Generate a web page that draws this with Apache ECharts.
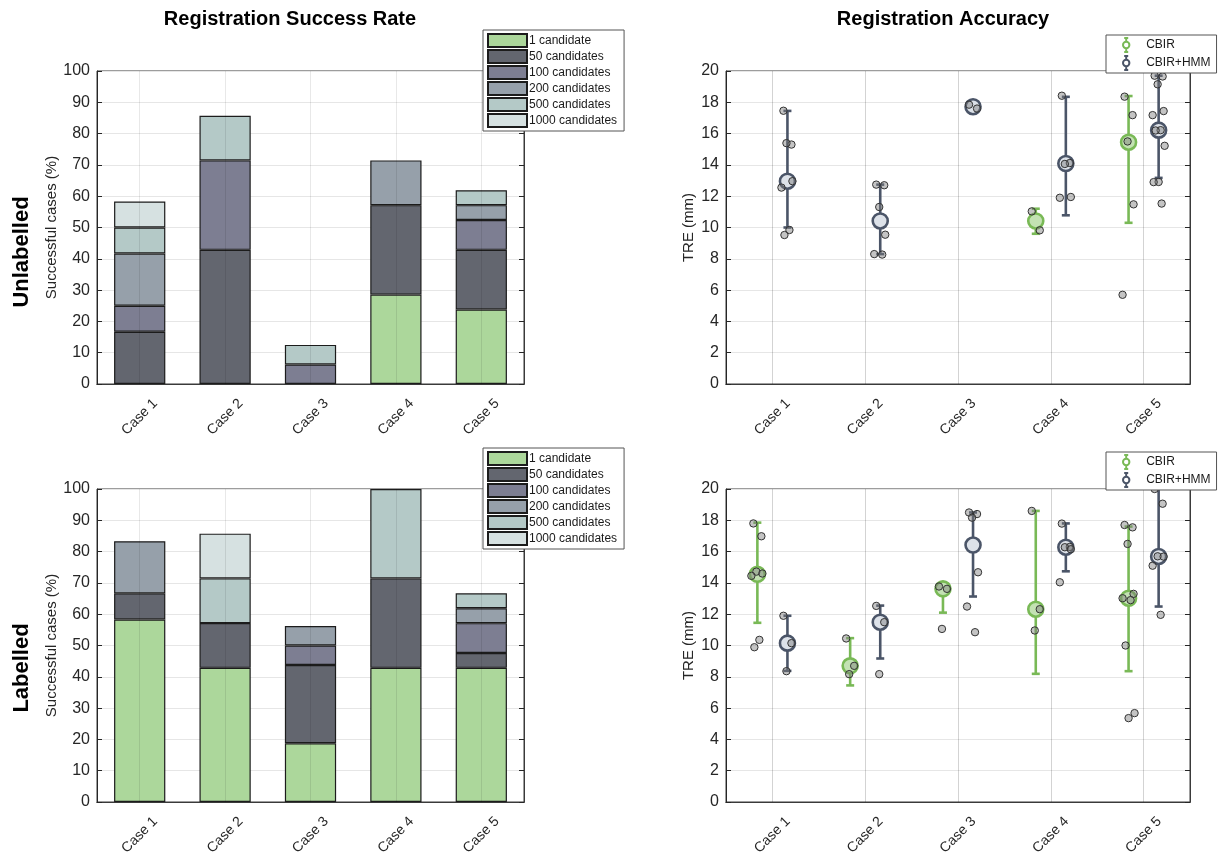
<!DOCTYPE html>
<html>
<head>
<meta charset="utf-8">
<script src="https://cdn.jsdelivr.net/npm/echarts@6/dist/echarts.min.js"></script>
<style>
  html, body { margin: 0; padding: 0; background: #ffffff; }
  #chart { width: 1224px; height: 858px; }
</style>
</head>
<body>
<div id="chart"></div>
<script>
// ---------- data ----------
const CASES = ['Case 1', 'Case 2', 'Case 3', 'Case 4', 'Case 5'];
const CANDIDATE_SETS = ['1 candidate', '50 candidates', '100 candidates', '200 candidates', '500 candidates', '1000 candidates'];

// Success-rate increments (%) gained by each candidate-set size (stacked)
const unlabRate1    = [0, 0, 0, 28.57, 23.81];
const unlabRate50   = [16.67, 42.86, 0, 28.57, 19.05];
const unlabRate100  = [8.33, 28.57, 6.25, 0, 9.52];
const unlabRate200  = [16.67, 0, 0, 14.29, 4.76];
const unlabRate500  = [8.33, 14.29, 6.25, 0, 4.76];
const unlabRate1000 = [8.33, 0, 0, 0, 0];

const labRate1    = [58.33, 42.86, 18.75, 42.86, 42.86];
const labRate50   = [8.33, 14.29, 25, 28.57, 4.76];
const labRate100  = [0, 0, 6.25, 0, 9.52];
const labRate200  = [16.67, 0, 6.25, 0, 4.76];
const labRate500  = [0, 14.29, 0, 28.57, 4.76];
const labRate1000 = [0, 14.29, 0, 0, 0];

// TRE (mm): median, lower / upper whisker, individual registrations
const unlabCbirMid  = [null, null, null, 10.42, 15.45];
const unlabCbirLow  = [null, null, null, 9.6, 10.3];
const unlabCbirHigh = [null, null, null, 11.2, 18.4];
const unlabCbirPts  = [[], [], [], [11.03, 9.82], [18.36, 17.18, 15.5, 11.48, 5.7]];

const unlabHmmMid  = [12.96, 10.42, 17.72, 14.09, 16.22];
const unlabHmmLow  = [10.0, 8.3, 17.6, 10.78, 13.17];
const unlabHmmHigh = [17.45, 12.74, 17.85, 18.35, 19.7];
const unlabHmmPts  = [
  [17.46, 15.3, 15.39, 12.96, 12.55, 9.84, 9.52],
  [12.74, 12.7, 11.31, 9.54, 8.3, 8.27],
  [17.85, 17.6],
  [18.42, 14.12, 14.06, 11.95, 11.9],
  [19.7, 19.65, 19.15, 17.44, 17.18, 16.22, 16.2, 15.22, 12.91, 12.9, 11.53]
];

const labCbirMid  = [14.55, 8.7, 13.62, 12.32, 13.02];
const labCbirLow  = [11.45, 7.45, 12.1, 8.19, 8.36];
const labCbirHigh = [17.85, 10.47, 13.77, 18.6, 17.6];
const labCbirPts  = [
  [17.8, 16.98, 14.72, 14.6, 14.45, 10.36, 9.89],
  [10.45, 8.7, 8.17],
  [13.77, 13.62, 11.06],
  [18.6, 12.32, 10.96],
  [17.7, 17.55, 16.49, 13.3, 13.02, 12.9, 10.0, 5.68, 5.36]
];

const labHmmMid  = [10.15, 11.49, 16.42, 16.28, 15.69];
const labHmmLow  = [8.38, 9.17, 13.13, 14.74, 12.49];
const labHmmHigh = [11.9, 12.55, 18.5, 17.8, 21.0];
const labHmmPts  = [
  [11.9, 10.15, 8.36],
  [12.53, 11.49, 8.17],
  [18.5, 18.4, 18.17, 14.68, 12.49, 10.85],
  [17.79, 16.3, 16.28, 16.15, 14.04],
  [20.0, 19.06, 15.7, 15.68, 15.1, 11.96]
];

// ---------- styling ----------
const FONT = 'Liberation Sans, Arial, Helvetica, sans-serif';
const TEXT = '#262626';
const BAR_COLORS = ['#acd79b', '#63666f', '#7d7e92', '#96a0aa', '#b4c9c7', '#d6e1e1'];
const CBIR_COLOR = '#79b956';
const HMM_COLOR = '#4b5568';
const CBIR_FILL = '#c3e2b3';
const HMM_FILL = '#dde2e9';
const JITTER = [-4, 4, -1, 5, -6, 2, -3, 6, 0, -5, 3, 1, -2];

const grids = [
  { left: 97,  top: 71,  width: 427, height: 313 },
  { left: 97,  top: 489, width: 427, height: 313 },
  { left: 726, top: 71,  width: 464, height: 313 },
  { left: 726, top: 489, width: 464, height: 313 }
].map(g => Object.assign(g, { show: true, borderColor: '#3a3a3a', borderWidth: 1, backgroundColor: 'transparent' }));

const xAxes = [];
const yAxes = [];
grids.forEach((g, gi) => {
  xAxes.push({
    type: 'category', gridIndex: gi, data: CASES, position: 'bottom',
    axisLine: { lineStyle: { color: TEXT, width: 1 } },
    axisTick: { inside: true, alignWithLabel: true, length: 5, lineStyle: { color: TEXT } },
    axisLabel: { rotate: 45, align: 'center', verticalAlign: 'middle', margin: 33,
                 fontSize: 14, color: TEXT, fontFamily: FONT },
    splitLine: { show: false }
  });
  xAxes.push({
    type: 'category', gridIndex: gi, data: CASES, position: 'top',
    axisLine: { lineStyle: { color: '#3a3a3a', width: 1 } },
    axisTick: { inside: true, alignWithLabel: true, length: 5, lineStyle: { color: TEXT } },
    axisLabel: { show: false }, splitLine: { show: false }
  });
  const isRate = gi < 2;
  const scale = isRate ? { min: 0, max: 100, interval: 10 } : { min: 0, max: 20, interval: 2 };
  yAxes.push(Object.assign({
    type: 'value', gridIndex: gi, position: 'left',
    name: isRate ? 'Successful cases (%)' : 'TRE (mm)',
    nameLocation: 'middle', nameGap: 30,
    nameTextStyle: { fontSize: 15, color: TEXT, fontFamily: FONT },
    axisLine: { show: true, lineStyle: { color: TEXT, width: 1 } },
    axisTick: { show: true, inside: true, length: 5, lineStyle: { color: TEXT } },
    axisLabel: { fontSize: 16, color: TEXT, fontFamily: FONT, margin: 7 },
    splitLine: { show: true, lineStyle: { color: '#e6e6e6', width: 1 } }
  }, scale));
  yAxes.push(Object.assign({
    type: 'value', gridIndex: gi, position: 'right',
    axisLine: { show: true, lineStyle: { color: '#3a3a3a', width: 1 } },
    axisTick: { show: true, inside: true, length: 5, lineStyle: { color: TEXT } },
    axisLabel: { show: false }, splitLine: { show: false }
  }, scale));
});

// vertical grid lines through each case, drawn with the category scale
const caseGridLines = {
  silent: true, symbol: ['none', 'none'], label: { show: false },
  lineStyle: { color: 'rgba(0,0,0,0.09)', type: 'solid', width: 1 },
  emphasis: { disabled: true },
  data: CASES.map(c => ({ xAxis: c }))
};

function barSeries(gridIdx, stackName, rows) {
  return rows.map((vals, k) => {
    const s = {
      type: 'bar', name: CANDIDATE_SETS[k], stack: stackName,
      xAxisIndex: gridIdx * 2, yAxisIndex: gridIdx * 2,
      barWidth: '60%',
      data: vals.map(v => (v === 0 ? '-' : v)),
      itemStyle: { color: BAR_COLORS[k], borderColor: '#1c1c1c', borderWidth: 1.2 },
      emphasis: { disabled: true }
    };
    if (k === rows.length - 1) s.markLine = caseGridLines;
    return s;
  });
}

function errorSeries(gridIdx, name, side, color, fill, mids, lows, highs, pts) {
  return {
    type: 'custom', name: name,
    xAxisIndex: gridIdx * 2, yAxisIndex: gridIdx * 2,
    data: CASES.map((c, i) => [i, mids[i] == null ? 0 : mids[i]]),
    z: 3,
    renderItem: function (params, api) {
      const i = params.dataIndex;
      if (mids[i] == null) return null;
      const band = api.size([1, 0])[0];
      const c = api.coord([i, mids[i]]);
      const x = c[0] + side * band * 0.162;
      const yLo = api.coord([i, lows[i]])[1];
      const yHi = api.coord([i, highs[i]])[1];
      const children = [
        { type: 'line', shape: { x1: x, y1: yLo, x2: x, y2: yHi }, style: { stroke: color, lineWidth: 2.6 } },
        { type: 'line', shape: { x1: x - 4, y1: yLo, x2: x + 4, y2: yLo }, style: { stroke: color, lineWidth: 2.6 } },
        { type: 'line', shape: { x1: x - 4, y1: yHi, x2: x + 4, y2: yHi }, style: { stroke: color, lineWidth: 2.6 } },
        { type: 'circle', shape: { cx: x, cy: c[1], r: 7.5 }, style: { fill: fill, stroke: color, lineWidth: 2.6 } }
      ];
      pts[i].forEach((v, k) => {
        const p = api.coord([i, v]);
        children.push({
          type: 'circle',
          shape: { cx: x + JITTER[k % JITTER.length], cy: p[1], r: 3.7 },
          style: { fill: 'rgba(125,125,125,0.45)', stroke: '#333333', lineWidth: 1 }
        });
      });
      return { type: 'group', children: children };
    },
    markLine: caseGridLines
  };
}

const series = []
  .concat(barSeries(0, 'unlab', [unlabRate1, unlabRate50, unlabRate100, unlabRate200, unlabRate500, unlabRate1000]))
  .concat(barSeries(1, 'lab', [labRate1, labRate50, labRate100, labRate200, labRate500, labRate1000]))
  .concat([
    errorSeries(2, 'CBIR', -1, CBIR_COLOR, CBIR_FILL, unlabCbirMid, unlabCbirLow, unlabCbirHigh, unlabCbirPts),
    errorSeries(2, 'CBIR+HMM', 1, HMM_COLOR, HMM_FILL, unlabHmmMid, unlabHmmLow, unlabHmmHigh, unlabHmmPts),
    errorSeries(3, 'CBIR', -1, CBIR_COLOR, CBIR_FILL, labCbirMid, labCbirLow, labCbirHigh, labCbirPts),
    errorSeries(3, 'CBIR+HMM', 1, HMM_COLOR, HMM_FILL, labHmmMid, labHmmLow, labHmmHigh, labHmmPts)
  ]);

const ERR_ICON = 'path://M3,0L7,0M5,0L5,3.5M5,10.5L5,14M3,14L7,14M1.8,7a3.2,3.2 0 1,0 6.4,0a3.2,3.2 0 1,0 -6.4,0';

function rateLegend(top) {
  return {
    orient: 'vertical', left: 483, top: top,
    data: CANDIDATE_SETS, icon: 'rect',
    itemWidth: 39, itemHeight: 13, itemGap: 1,
    padding: [3, 7, 3, 4],
    backgroundColor: '#ffffff', borderColor: '#555555', borderWidth: 1, borderRadius: 0,
    textStyle: { fontSize: 12, lineHeight: 13, color: '#1a1a1a', fontFamily: FONT, padding: [0, 0, 0, -3] },
    selectedMode: false, z: 20
  };
}
function treLegend(top) {
  return {
    orient: 'vertical', left: 1106, top: top,
    data: [
      { name: 'CBIR', icon: ERR_ICON, itemStyle: { color: 'rgba(0,0,0,0)', borderColor: CBIR_COLOR, borderWidth: 2 } },
      { name: 'CBIR+HMM', icon: ERR_ICON, itemStyle: { color: 'rgba(0,0,0,0)', borderColor: HMM_COLOR, borderWidth: 2 } }
    ],
    itemWidth: 30, itemHeight: 14, itemGap: 2,
    padding: [2, 6, 2, 16],
    backgroundColor: '#ffffff', borderColor: '#555555', borderWidth: 1, borderRadius: 0,
    textStyle: { fontSize: 12, lineHeight: 14, color: '#1a1a1a', fontFamily: FONT },
    selectedMode: false, z: 20
  };
}

const titleStyle = { fill: '#000000', font: 'bold 20px ' + FONT, textAlign: 'center', textVerticalAlign: 'middle' };
const rowStyle = { fill: '#000000', font: 'bold 22px ' + FONT, textAlign: 'center', textVerticalAlign: 'middle' };

const option = {
  animation: false,
  backgroundColor: '#ffffff',
  textStyle: { fontFamily: FONT },
  grid: grids,
  xAxis: xAxes,
  yAxis: yAxes,
  legend: [rateLegend(30), rateLegend(448), treLegend(35), treLegend(452)],
  graphic: [
    { type: 'text', x: 290, y: 19, style: Object.assign({ text: 'Registration Success Rate' }, titleStyle) },
    { type: 'text', x: 943, y: 19, style: Object.assign({ text: 'Registration Accuracy' }, titleStyle) },
    { type: 'text', x: 22, y: 252, rotation: Math.PI / 2, style: Object.assign({ text: 'Unlabelled' }, rowStyle) },
    { type: 'text', x: 22, y: 668, rotation: Math.PI / 2, style: Object.assign({ text: 'Labelled' }, rowStyle) }
  ],
  series: series
};

const chart = echarts.init(document.getElementById('chart'), null, { renderer: 'canvas' });
chart.setOption(option);
</script>
</body>
</html>
